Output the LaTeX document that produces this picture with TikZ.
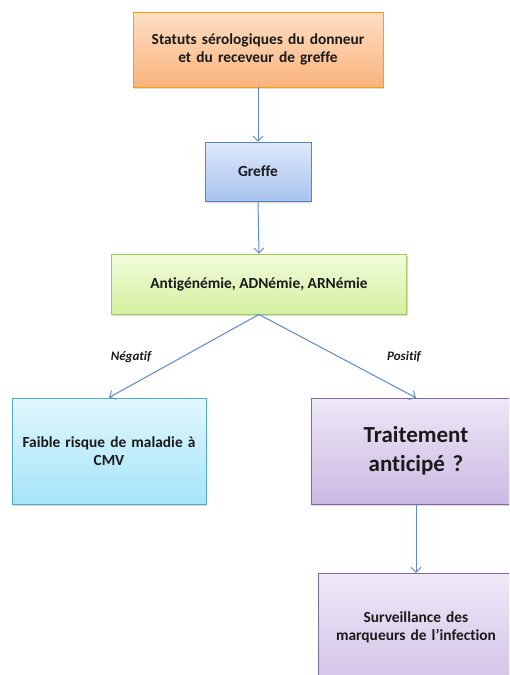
\documentclass[tikz,border=0pt]{standalone}
\usepackage{fontspec}
\setmainfont{Carlito}[Ligatures=NoCommon]
\usetikzlibrary{arrows.meta,shadows}
\definecolor{txt}{HTML}{1A1A1A}
\definecolor{link}{HTML}{5B8ACB}
\begin{document}
\begin{tikzpicture}[x=1pt,y=-1pt,
  shade/.style={line width=0.9pt,
    drop shadow={shadow xshift=1.2pt, shadow yshift=-2.2pt, opacity=0.28}},
  box/.style={shade, draw, align=center, text=txt, inner sep=4pt,
    font=\fontsize{15.4}{18}\selectfont\bfseries},
  label/.style={align=center, text=txt, inner sep=4pt,
    font=\fontsize{15.4}{18}\selectfont\bfseries},
  orangebox/.style={box, draw=orange!70!red!60!yellow, top color={rgb,255:red,253;green,222;blue,196}, bottom color={rgb,255:red,250;green,180;blue,125}},
  bluebox/.style={box, draw={rgb,255:red,90;green,130;blue,195}, top color={rgb,255:red,222;green,232;blue,250}, bottom color={rgb,255:red,168;green,195;blue,240}},
  greenbox/.style={box, draw={rgb,255:red,160;green,200;blue,90}, top color={rgb,255:red,242;green,251;blue,220}, bottom color={rgb,255:red,212;green,240;blue,160}},
  cyanbox/.style={box, draw={rgb,255:red,80;green,170;blue,200}, top color={rgb,255:red,226;green,247;blue,253}, bottom color={rgb,255:red,165;green,228;blue,248}},
  purplefill/.style={shade, draw={rgb,255:red,130;green,105;blue,165}, top color={rgb,255:red,238;green,232;blue,247}, bottom color={rgb,255:red,202;green,185;blue,226}},
  flow/.style={draw=link, line width=1pt, -{Straight Barb[length=5pt,width=10pt,line width=0.9pt]}},
  branch/.style={font=\fontsize{13}{15}\selectfont\bfseries\itshape, text=txt}]
\useasboundingbox (0,0) rectangle (509,675);
\clip (0,0) rectangle (509,675);
\fill[white] (0,0) rectangle (509,675);

\node[orangebox, minimum width=250pt, minimum height=75pt, text width=240pt] (sero) at (258,49.5)
  {Statuts sérologiques du donneur\\et du receveur de greffe};
\node[bluebox, minimum width=106pt, minimum height=59pt] (greffe) at (258,171.5) {Greffe};
\node[greenbox, minimum width=295pt, minimum height=60pt] (marq) at (259,284)
  {Antigénémie, ADNémie, ARNémie};
\node[cyanbox, minimum width=194pt, minimum height=106pt, text width=184pt] (faible) at (109,451)
  {Faible risque de maladie à\\CMV};

% the two right-hand boxes run past the edge of the page
\path[purplefill] (311,398) rectangle (560,504);
\path[purplefill] (318,573) rectangle (560,720);
\node[label, minimum width=210pt, minimum height=106pt, text width=200pt,
  font=\fontsize{23}{29}\selectfont\bfseries] (trait) at (416,451)
  {Traitement\\anticipé ?};
\node[label, minimum width=196pt, minimum height=108pt, text width=186pt] (surv) at (416,627)
  {Surveillance des\\marqueurs de l’infection};

\draw[flow] (sero.south) -- (greffe.north);
\draw[flow] (greffe.south) -- (marq.north);
\draw[flow] (marq.south) -- (faible.north);
\draw[flow] (marq.south) -- (trait.north);
\draw[flow] (trait.south) -- (surv.north);

\node[branch] (neg) at (131,357) {Négatif};
\node[branch] (pos) at (404,357) {Positif};
\end{tikzpicture}
\end{document}
